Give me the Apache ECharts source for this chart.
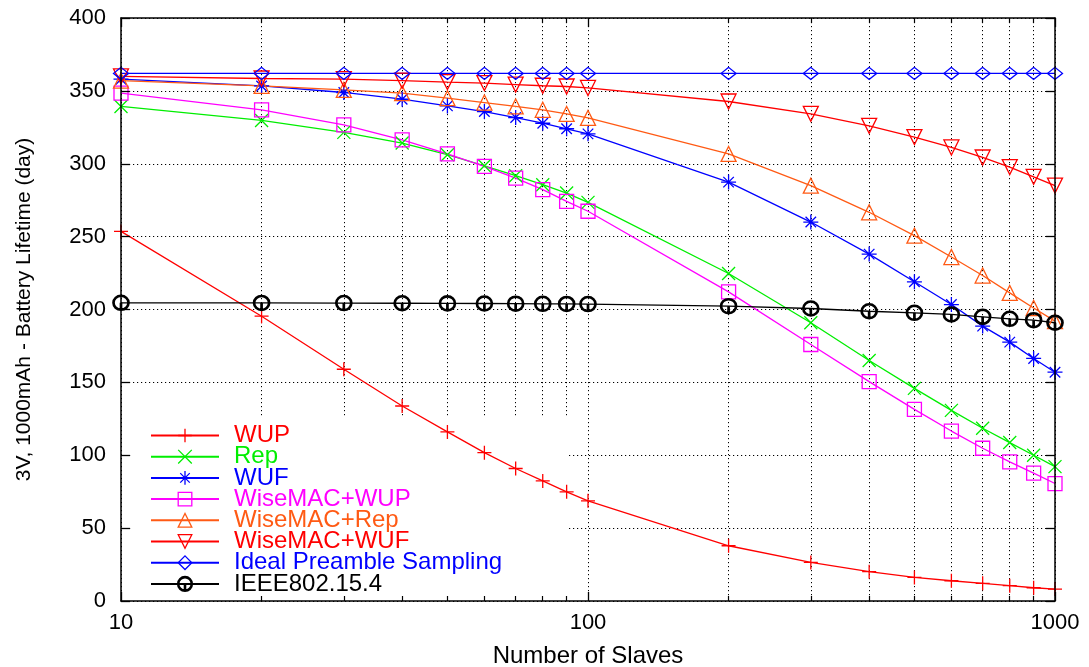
<!DOCTYPE html>
<html>
<head>
<meta charset="utf-8">
<script src="https://cdn.jsdelivr.net/npm/echarts@6/dist/echarts.min.js"></script>
<style>
  html, body { margin: 0; padding: 0; background: #fff; }
  #chart { width: 1089px; height: 667px; }
</style>
</head>
<body>
<div id="chart"></div>
<script>
// Number of slaves (log scale)
const slaves = [10, 20, 30, 40, 50, 60, 70, 80, 90, 100, 200, 300, 400, 500, 600, 700, 800, 900, 1000];

// Battery lifetime in days for each protocol
const wup = [253.6, 195.4, 159, 133.8, 116, 101.8, 90.9, 82.4, 74.9, 68.7, 37.9, 26.5, 20.1, 16.2, 13.9, 12.1, 10.5, 9.1, 8.2];
const rep = [339.3, 329.7, 321.5, 314.2, 306.2, 298.6, 291.8, 285.6, 279.9, 273.5, 224.7, 190.9, 165, 145.9, 130.8, 118.5, 108.7, 100, 92.2];
const wuf = [358, 353.4, 348.9, 344.3, 339.7, 335.8, 331.7, 327.8, 324, 320.5, 287.4, 260, 238, 219, 203.4, 188.6, 177.6, 166.4, 157];
const wiseWup = [348.4, 337, 326.7, 316.4, 306.8, 298.2, 290.2, 282.2, 274.2, 267.4, 212.1, 176, 150.5, 131.5, 116.6, 104.8, 95.4, 87.7, 80.6];
const wiseRep = [357, 353.4, 350.7, 348.4, 345, 342, 339.3, 337, 334.2, 331.5, 306.8, 285, 266.7, 250.7, 236, 223.3, 211.4, 201, 192];
const wiseWuf = [360, 358.5, 358, 357, 356, 355.3, 354.3, 353.5, 353, 352, 342.7, 334.2, 326, 318.3, 311.2, 304.3, 297.7, 291, 285];
const ideal = [362, 362, 362, 362, 362, 362, 362, 362, 362, 362, 362, 362, 362, 362, 362, 362, 362, 362, 362];
const ieee = [204.6, 204.5, 204.4, 204.3, 204.2, 204.1, 204, 203.9, 203.8, 203.7, 202.3, 200.7, 198.8, 197.7, 196.6, 195, 193.6, 192.7, 190.9];

// Axis ticks
const xMajorTicks = [10, 100, 1000];
const xMinorTicks = [20, 30, 40, 50, 60, 70, 80, 90, 200, 300, 400, 500, 600, 700, 800, 900];
const xGridTicks = [10, 20, 30, 40, 50, 60, 70, 80, 90, 100, 200, 300, 400, 500, 600, 700, 800, 900, 1000];

const FONT = 'Liberation Sans, Arial, sans-serif';

// Marker shapes
const SYM_PLUS = 'path://M0,-10L0,10M-10,0L10,0';
const SYM_CROSS = 'path://M-10,-10L10,10M-10,10L10,-10';
const SYM_STAR = 'path://M0,-10L0,10M-10,0L10,0M-7,-7L7,7M-7,7L7,-7';
const SYM_DOWN = 'path://M-10,-8.5L10,-8.5L0,9Z';
const SYM_UP = 'path://M-10,8.5L10,8.5L0,-9Z';
const SYM_CIRCLE_TICK = 'path://M-10,0A10,10,0,1,1,10,0A10,10,0,1,1,-10,0ZM0,0L0,10';

const seriesDefs = [
  { name: 'WUP', data: wup, color: '#ff0000', symbol: SYM_PLUS, size: 14, bw: 1.3 },
  { name: 'Rep', data: rep, color: '#00ee00', symbol: SYM_CROSS, size: 13, bw: 1.3 },
  { name: 'WUF', data: wuf, color: '#0000ff', symbol: SYM_STAR, size: 15, bw: 1.3 },
  { name: 'WiseMAC+WUP', data: wiseWup, color: '#ff00ff', symbol: 'rect', size: 14, bw: 1.3 },
  { name: 'WiseMAC+Rep', data: wiseRep, color: '#ff5a14', symbol: SYM_UP, size: 15, bw: 1.3 },
  { name: 'WiseMAC+WUF', data: wiseWuf, color: '#ff0000', symbol: SYM_DOWN, size: 15, bw: 1.3 },
  { name: 'Ideal Preamble Sampling', data: ideal, color: '#0000ff', symbol: 'diamond', size: [15, 12], bw: 1.3 },
  { name: 'IEEE802.15.4', data: ieee, color: '#000000', symbol: SYM_CIRCLE_TICK, size: [15, 14], bw: 2.6 }
];

const dotted = { color: '#000', width: 1, type: [1.2, 2.8] };

const series = seriesDefs.map(d => ({
  name: d.name,
  type: 'line',
  xAxisIndex: 1,
  yAxisIndex: 1,
  data: slaves.map((x, i) => [x, d.data[i]]),
  symbol: d.symbol,
  symbolSize: d.size,
  showAllSymbol: true,
  clip: false,
  lineStyle: { color: d.color, width: 1.3 },
  itemStyle: { color: 'rgba(0,0,0,0)', borderColor: d.color, borderWidth: d.bw },
  emphasis: { disabled: true },
  z: 2
}));

const chart = echarts.init(document.getElementById('chart'), null, { renderer: 'canvas' });

const logAxisBase = { type: 'log', logBase: 10, min: 10, max: 1000, gridIndex: 0 };

chart.setOption({
  animation: false,
  backgroundColor: '#fff',
  grid: { left: 121, right: 34, top: 18, bottom: 66, containLabel: false, outerBoundsMode: 'none' },
  xAxis: [
    // dotted grid lines
    Object.assign({}, logAxisBase, {
      position: 'bottom', z: 0,
      axisLine: { show: false },
      axisTick: { show: false, customValues: xGridTicks },
      axisLabel: { show: false, customValues: xGridTicks },
      splitLine: { show: true, lineStyle: dotted }
    }),
    // bottom axis with labels and major ticks
    Object.assign({}, logAxisBase, {
      position: 'bottom', z: 5,
      name: 'Number of Slaves', nameLocation: 'middle', nameGap: 43,
      nameTextStyle: { fontFamily: FONT, fontSize: 24, color: '#000' },
      axisLine: { show: true, lineStyle: { color: '#000', width: 1.5 } },
      axisTick: { show: true, inside: true, length: 9, customValues: xMajorTicks, lineStyle: { color: '#000', width: 1.3 } },
      axisLabel: {
        show: true, margin: 11, customValues: xMajorTicks, fontFamily: FONT, fontSize: 22, color: '#000',
        formatter: v => String(Math.round(v))
      },
      splitLine: { show: false }
    }),
    // bottom minor ticks
    Object.assign({}, logAxisBase, {
      position: 'bottom', z: 5,
      axisLine: { show: false },
      axisTick: { show: true, inside: true, length: 5, customValues: xMinorTicks, lineStyle: { color: '#000', width: 1.2 } },
      axisLabel: { show: false, customValues: xMinorTicks },
      splitLine: { show: false }
    }),
    // top border with major ticks
    Object.assign({}, logAxisBase, {
      position: 'top', z: 5,
      axisLine: { show: true, lineStyle: { color: '#000', width: 1.5 } },
      axisTick: { show: true, inside: true, length: 9, customValues: xMajorTicks, lineStyle: { color: '#000', width: 1.3 } },
      axisLabel: { show: false, customValues: xMajorTicks },
      splitLine: { show: false }
    }),
    // top minor ticks
    Object.assign({}, logAxisBase, {
      position: 'top', z: 5,
      axisLine: { show: false },
      axisTick: { show: true, inside: true, length: 5, customValues: xMinorTicks, lineStyle: { color: '#000', width: 1.2 } },
      axisLabel: { show: false, customValues: xMinorTicks },
      splitLine: { show: false }
    })
  ],
  yAxis: [
    // dotted grid lines
    {
      type: 'value', min: 0, max: 400, interval: 50, position: 'left', z: 0,
      axisLine: { show: false }, axisTick: { show: false }, axisLabel: { show: false },
      splitLine: { show: true, lineStyle: dotted }
    },
    // left axis with labels
    {
      type: 'value', min: 0, max: 400, interval: 50, position: 'left', z: 5,
      name: '3V, 1000mAh - Battery Lifetime (day)', nameLocation: 'middle', nameGap: 86,
      nameTextStyle: { fontFamily: FONT, fontSize: 21, color: '#000' },
      axisLine: { show: true, lineStyle: { color: '#000', width: 1.5 } },
      axisTick: { show: true, inside: true, length: 9, lineStyle: { color: '#000', width: 1.3 } },
      axisLabel: { show: true, margin: 15, fontFamily: FONT, fontSize: 22, color: '#000' },
      splitLine: { show: false }
    },
    // right border with mirrored ticks
    {
      type: 'value', min: 0, max: 400, interval: 50, position: 'right', z: 5,
      axisLine: { show: true, lineStyle: { color: '#000', width: 1.5 } },
      axisTick: { show: true, inside: true, length: 9, lineStyle: { color: '#000', width: 1.3 } },
      axisLabel: { show: false },
      splitLine: { show: false }
    }
  ],
  legend: {
    orient: 'vertical',
    left: 133,
    top: 418,
    z: 1,
    backgroundColor: '#fff',
    padding: [5.5, 66, 3, 17],
    itemWidth: 68,
    itemHeight: 17,
    itemGap: -2.8,
    selectedMode: false,
    textStyle: { fontFamily: FONT, fontSize: 24, lineHeight: 21, padding: [0, 0, 0, 10] },
    data: seriesDefs.map(d => ({
      name: d.name,
      textStyle: { color: d.color },
      itemStyle: { borderWidth: d.name === 'IEEE802.15.4' ? 2.6 : 1.3 }
    }))
  },
  series: series
});
</script>
</body>
</html>
